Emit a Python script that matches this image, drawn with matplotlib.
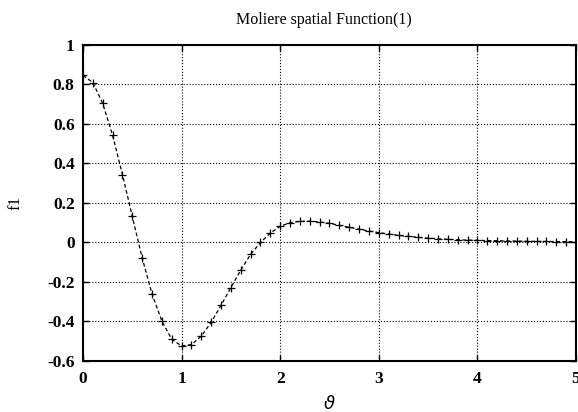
import numpy as np
import matplotlib
matplotlib.use("Agg")
import matplotlib.pyplot as plt

theta = [round(0.1 * i, 1) for i in range(51)]
f1 = [0.846, 0.810, 0.704, 0.543, 0.344, 0.132, -0.078, -0.260, -0.398, -0.490,
      -0.524, -0.517, -0.474, -0.404, -0.318, -0.228, -0.140, -0.060, 0.000, 0.048,
      0.082, 0.100, 0.107, 0.108, 0.104, 0.097, 0.087, 0.077, 0.067, 0.058,
      0.050, 0.043, 0.036, 0.031, 0.026, 0.022, 0.019, 0.016, 0.014, 0.012,
      0.011, 0.0097, 0.0088, 0.0079, 0.0070, 0.0062, 0.0056, 0.0051, 0.0047, 0.0043,
      0.0039]
xticks = [0, 1, 2, 3, 4, 5]
yticks = [-0.6, -0.4, -0.2, 0, 0.2, 0.4, 0.6, 0.8, 1]
ytick_labels = ["-0.6", "-0.4", "-0.2", "0", "0.2", "0.4", "0.6", "0.8", "1"]

plt.rcParams['font.family'] = ['Liberation Serif', 'DejaVu Serif']

fig = plt.figure(figsize=(5.78, 4.12), dpi=100)
ax = fig.add_axes([0.1436, 0.1238, 0.8529, 0.767])
ax.plot(theta, f1, linestyle=(0, (3, 2)), color='black', linewidth=0.9,
        marker='+', markersize=6, markeredgewidth=0.9)
ax.set_xlim(0, 5)
ax.set_ylim(-0.6, 1)
ax.set_xticks(xticks)
ax.set_xticklabels([str(t) for t in xticks], fontweight='bold', fontsize=12.5)
ax.set_yticks(yticks)
ax.set_yticklabels(ytick_labels, fontweight='bold', fontsize=12.5)
ax.grid(True, linestyle=':', color='black', linewidth=0.8)
ax.tick_params(direction='in', length=4, top=True, right=True, width=1)
ax.tick_params(axis='x', pad=7)
ax.tick_params(axis='y', pad=6)
for s in ax.spines.values():
    s.set_linewidth(1.5)
fig.text(324 / 578, 1 - 20 / 412, 'Moliere spatial Function(1)', fontsize=11.5,
         ha='center', va='center')
ax.set_xlabel(r'$\vartheta$', fontsize=13, labelpad=6)
ax.set_ylabel('f1', fontsize=12, labelpad=17)
fig.savefig('out.png', dpi=100)
